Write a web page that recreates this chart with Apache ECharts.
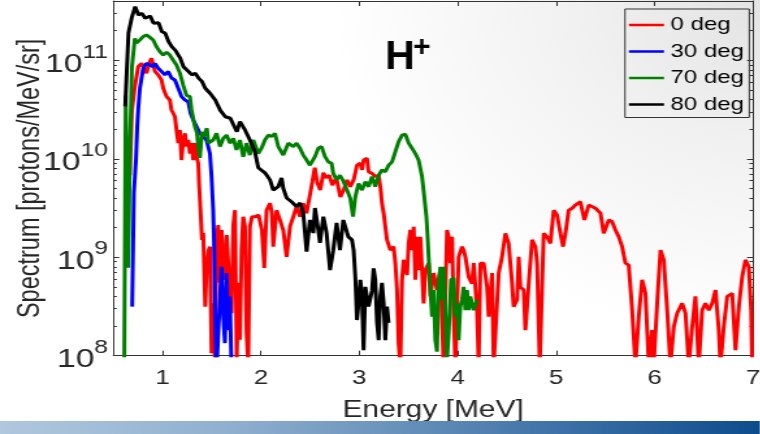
<!DOCTYPE html>
<html>
<head>
<meta charset="utf-8">
<title>H+ spectrum</title>
<script src="https://cdn.jsdelivr.net/npm/echarts@6.0.0/dist/echarts.min.js"></script>
<style>
  html, body { margin: 0; padding: 0; }
  body {
    width: 760px; height: 434px; overflow: hidden; position: relative;
    background: radial-gradient(ellipse 430px 340px at 100% 0%, #e3e3e3 0%, #f0f0f0 40%, #ffffff 100%);
  }
  #chart { position: absolute; left: 0; top: 0; height: 434px; transform-origin: 0 0; }
</style>
</head>
<body>
<div id="chart"></div>
<script>
// Proton (H+) spectra at four observation angles, energy in MeV, spectrum in protons/MeV/sr.
const energy0deg = [0.667,0.689,0.719,0.753,0.787,0.821,0.837,0.872,0.888,0.923,0.956,0.990,1.007,1.041,1.075,1.091,1.109,1.126,1.142,1.160,1.177,1.193,1.210,1.228,1.244,1.261,1.279,1.295,1.312,1.329,1.346,1.363,1.373,1.386,1.401,1.414,1.434,1.447,1.468,1.482,1.498,1.515,1.532,1.549,1.566,1.584,1.600,1.617,1.634,1.652,1.668,1.688,1.701,1.719,1.736,1.754,1.770,1.787,1.803,1.820,1.838,1.854,1.871,1.888,1.909,1.922,1.942,1.976,2.010,2.034,2.057,2.092,2.112,2.125,2.159,2.193,2.227,2.261,2.295,2.329,2.362,2.397,2.430,2.464,2.498,2.522,2.547,2.573,2.603,2.634,2.664,2.695,2.725,2.766,2.807,2.840,2.875,2.908,2.942,2.976,3.010,3.027,3.043,3.078,3.094,3.129,3.162,3.196,3.213,3.230,3.247,3.264,3.281,3.315,3.348,3.366,3.383,3.399,3.416,3.434,3.450,3.485,3.501,3.518,3.535,3.552,3.569,3.586,3.602,3.620,3.637,3.653,3.670,3.704,3.722,3.755,3.789,3.823,3.856,3.891,3.908,3.925,3.942,3.958,3.976,4.009,4.044,4.060,4.077,4.111,4.145,4.162,4.196,4.212,4.230,4.263,4.298,4.314,4.349,4.365,4.416,4.450,4.484,4.517,4.552,4.568,4.603,4.619,4.636,4.670,4.687,4.721,4.755,4.789,4.806,4.833,4.873,4.908,4.941,4.975,5.009,5.043,5.070,5.094,5.127,5.162,5.195,5.246,5.287,5.331,5.399,5.450,5.483,5.534,5.568,5.602,5.636,5.670,5.704,5.737,5.772,5.805,5.839,5.873,5.907,5.941,5.975,5.991,6.026,6.060,6.093,6.128,6.161,6.195,6.229,6.280,6.314,6.347,6.382,6.415,6.449,6.483,6.517,6.551,6.585,6.619,6.652,6.669,6.703,6.738,6.789,6.822,6.856,6.890,6.923,6.957,6.981,6.991];
const spectrum0deg = [6.8e9,3.1e10,5.4e10,8.6e10,9.3e10,8.0e10,7.4e10,9.7e10,1.05e11,7.7e10,7.1e10,6.3e10,5.2e10,4.27e10,3.95e10,3.13e10,2.9e10,2.68e10,1.96e10,1.44e10,1.96e10,9.7e9,1.55e10,1.81e10,1.33e10,1.55e10,1.13e10,1.44e10,9.7e9,1.44e10,1.05e10,9.0e9,5.2e9,3.0e9,1.5e9,1.76e9,3.15e8,7.4e8,1.18e9,1.28e9,1.06e8,3.4e8,9e7,1.5e9,2.12e9,5.5e8,1.89e9,9.4e8,5.9e8,1.68e9,1.61e9,3.7e8,2.7e8,2.12e9,3.0e9,9e7,5.5e8,1.45e8,1.18e9,2.58e9,2.04e9,1.7e8,8e7,2.04e9,2.58e9,2.69e9,2.58e9,2.69e9,1.89e9,7.8e8,3.0e9,3.53e9,2.8e9,1.28e9,3.0e9,2.39e9,1.89e9,1.01e9,2.04e9,2.58e9,3.26e9,2.58e9,3.53e9,2.8e9,4.3e9,5.8e9,8.1e9,5.7e9,4.8e9,7.2e9,6.4e9,6.8e9,5.4e9,6.4e9,4.1e9,4.8e9,6.1e9,5.2e9,6.1e9,8.6e9,9.0e9,7.7e9,9.7e9,1.01e10,7.4e9,7.1e9,6.6e9,6.8e9,5.2e9,3.53e9,2.8e9,2.04e9,1.5e9,1.18e9,1.28e9,8.7e8,4.65e8,1.34e8,8e7,5.9e8,9.4e8,6.6e8,1.38e9,1.89e9,1.18e9,2.04e9,5.9e8,1.61e9,7.4e8,1.61e9,7.4e8,3.4e8,7.4e8,8.7e8,4.0e8,6.9e8,4.65e8,7.4e8,8e7,1.89e9,1.61e9,8.7e8,1.61e9,2.7e8,8e7,1.01e9,1.28e9,1.18e9,1.01e9,6.3e8,5.4e8,8.7e8,2.9e8,8e7,8.7e8,8.7e8,5.0e8,2.49e8,6.9e8,8e7,6.9e8,1.01e9,1.75e9,1.38e9,5.4e8,3.15e8,3.7e8,1.01e9,5.0e8,4.65e8,1.82e8,5.4e8,1.5e9,1.28e9,8.7e8,8e7,1.75e9,1.61e9,1.38e9,3.0e9,2.69e9,1.75e9,1.28e9,1.75e9,3.0e9,3.14e9,3.39e9,3.66e9,2.39e9,3.39e9,3.14e9,2.8e9,1.75e9,2.39e9,2.3e9,1.89e9,1.61e9,1.28e9,8.7e8,8.3e8,2.9e8,8e7,2.49e8,5.9e8,4.3e8,8e7,1.82e8,8e7,3.4e8,1.18e9,9.4e8,2.9e8,8e7,1.97e8,2.7e8,3.4e8,2.7e8,8e7,1.97e8,4.0e8,8e7,2.9e8,3.4e8,2.9e8,3.4e8,4.65e8,1.82e8,8e7,1.97e8,4.0e8,4.3e8,1.14e8,3.15e8,6.3e8,9.4e8,8.0e8,2.9e8,8e7];

const energy30deg = [0.692,0.709,0.730,0.743,0.753,0.770,0.804,0.837,0.872,0.905,0.923,0.956,0.990,1.024,1.058,1.091,1.126,1.160,1.193,1.228,1.261,1.285,1.312,1.346,1.380,1.414,1.447,1.482,1.498,1.515,1.523,1.533,1.549,1.584,1.600,1.617,1.634,1.651,1.668,1.685,1.701,1.720];
const spectrum30deg = [3.15e8,4.5e9,9.7e9,2.12e10,3.13e10,5.2e10,8.3e10,9.3e10,8.95e10,8.6e10,9.3e10,8.3e10,7.7e10,7.1e10,7.7e10,6.6e10,6.3e10,5.2e10,4.27e10,3.95e10,3.8e10,2.9e10,2.48e10,2.12e10,1.81e10,1.68e10,1.55e10,1.13e10,6.6e9,3.0e9,1.5e9,2.7e8,7e7,4.0e8,8.0e8,2.49e8,1.34e8,6.9e8,1.82e8,4.0e8,7e7,6e7];

const energy70deg = [0.610,0.626,0.651,0.669,0.689,0.719,0.735,0.770,0.804,0.837,0.872,0.905,0.939,0.974,1.007,1.041,1.075,1.109,1.142,1.177,1.210,1.244,1.279,1.295,1.329,1.350,1.363,1.380,1.401,1.414,1.451,1.465,1.515,1.549,1.584,1.617,1.651,1.685,1.719,1.752,1.787,1.820,1.854,1.888,1.922,1.973,2.006,2.041,2.075,2.108,2.143,2.176,2.227,2.278,2.329,2.362,2.397,2.430,2.464,2.498,2.549,2.583,2.616,2.651,2.685,2.718,2.735,2.769,2.803,2.840,2.875,2.908,2.936,2.959,2.992,3.027,3.061,3.094,3.129,3.162,3.196,3.230,3.264,3.297,3.332,3.366,3.399,3.434,3.467,3.501,3.535,3.569,3.602,3.637,3.660,3.681,3.694,3.704,3.722,3.739,3.755,3.772,3.789,3.806,3.823,3.840,3.856,3.891,3.908,3.932,3.958,3.976,3.993,4.009,4.026,4.044,4.060,4.077,4.094,4.111,4.128,4.162,4.196];
const spectrum70deg = [5e7,4.4e10,7.8e8,1.23e10,8.4e10,1.67e11,1.5e11,1.61e11,1.74e11,1.81e11,1.71e11,1.61e11,1.37e11,1.22e11,1.13e11,1.21e11,1.13e11,1.0e11,8.96e10,7.4e10,5.6e10,4.4e10,4.27e10,3.13e10,2.12e10,1.83e10,1.33e10,1.02e10,1.88e10,1.68e10,2.04e10,1.44e10,1.55e10,1.81e10,1.33e10,1.61e10,1.74e10,1.44e10,1.61e10,1.23e10,1.55e10,1.05e10,1.44e10,1.09e10,1.55e10,1.13e10,1.28e10,1.55e10,1.74e10,1.68e10,1.81e10,1.33e10,1.09e10,1.44e10,1.33e10,1.44e10,1.28e10,1.09e10,9.7e9,8.6e9,1.05e10,1.28e10,1.33e10,1.05e10,9.3e9,9.0e9,7.1e9,6.1e9,6.8e9,5.85e9,4.8e9,3.96e9,2.58e9,4.1e9,5.6e9,4.8e9,5.85e9,5.2e9,6.6e9,5.2e9,6.8e9,7.7e9,7.4e9,8.6e9,9.3e9,1.18e10,1.49e10,1.74e10,1.78e10,1.44e10,1.28e10,1.13e10,9.7e9,6.6e9,4.1e9,2.58e9,1.61e9,1.01e9,4.65e8,2.49e8,4.65e8,1.44e8,1.1e8,5.5e8,8.0e8,3.7e8,8.0e8,9e7,1.7e8,5.9e8,6.2e8,2.49e8,3.4e8,1.44e8,3.15e8,3.7e8,5.0e8,2.9e8,4.65e8,2.9e8,4.0e8,2.9e8,3.7e8];

const energy80deg = [0.621,0.654,0.689,0.722,0.756,0.791,0.824,0.875,0.909,0.959,0.994,1.027,1.061,1.096,1.129,1.180,1.213,1.248,1.299,1.332,1.366,1.401,1.434,1.485,1.536,1.587,1.638,1.689,1.722,1.756,1.787,1.838,1.888,1.939,1.973,2.041,2.092,2.125,2.176,2.210,2.227,2.261,2.311,2.362,2.397,2.430,2.448,2.464,2.498,2.532,2.549,2.583,2.600,2.634,2.667,2.702,2.735,2.769,2.803,2.837,2.888,2.925,2.942,2.959,2.976,2.992,3.010,3.027,3.043,3.061,3.094,3.129,3.145,3.162,3.180,3.196,3.213,3.230,3.247,3.264,3.281,3.297];
const spectrum80deg = [3.4e10,1.89e11,2.75e11,3.5e11,2.88e11,3.0e11,2.67e11,2.82e11,2.38e11,2.41e11,1.95e11,1.89e11,1.55e11,1.37e11,1.27e11,1.05e11,8.6e10,7.96e10,7.1e10,7.4e10,6.6e10,6.1e10,5.2e10,4.6e10,3.95e10,3.1e10,2.67e10,2.58e10,2.2e10,1.88e10,2.38e10,1.96e10,1.55e10,1.18e10,8.1e9,7.2e9,6.1e9,4.8e9,5.2e9,6.4e9,5.0e9,4.0e9,3.66e9,3.26e9,3.56e9,2.81e9,1.76e9,1.14e9,2.39e9,1.76e9,3.16e9,1.89e9,1.4e9,2.58e9,1.76e9,7.4e8,1.18e9,2.23e9,1.18e9,2.39e9,1.61e9,1.5e9,1.18e9,6.3e8,2.3e8,3.4e8,5.9e8,4.0e8,1.14e8,5.0e8,3.15e8,4.6e8,7.7e8,5.9e8,2.15e8,1.44e8,4.0e8,5.5e8,3.4e8,1.44e8,3.15e8,2.15e8];

const seriesNames = ['0 deg', '30 deg', '70 deg', '80 deg'];
const seriesColors = ['#ff0000', '#0000ff', '#008000', '#000000'];
const energies = [energy0deg, energy30deg, energy70deg, energy80deg];
const spectra = [spectrum0deg, spectrum30deg, spectrum70deg, spectrum80deg];
const energyTicks = [1, 2, 3, 4, 5, 6, 7];
const energyRange = [0.5, 7];
const spectrumRange = [1e8, 4e11];

// The figure is laid out narrow and widened horizontally, like the exported plot.
const STRETCH = 1.3;
const W = 760 / STRETCH;
const FONT = '"Liberation Sans", Arial, Helvetica, sans-serif';
const axisColor = '#333333';
const textColor = '#262626';

const el = document.getElementById('chart');
el.style.width = W + 'px';
el.style.transform = 'scaleX(' + STRETCH + ')';
const chart = echarts.init(el, null, { renderer: 'canvas' });

// Minor log ticks at 2..9 x 10^n, expressed in log10 units
const logMin = Math.log10(spectrumRange[0]);
const logMax = Math.log10(spectrumRange[1]);
const minorExp = [];
for (let n = Math.floor(logMin); n <= Math.floor(logMax); n++) {
  for (let k = 2; k <= 9; k++) {
    const e = n + Math.log10(k);
    if (e < logMax) minorExp.push(e);
  }
}

const lineAxis = { show: true, onZero: false, lineStyle: { color: axisColor, width: 1 } };
const decadeLabel = v => {
  const p = Math.log10(v);
  const r = Math.round(p);
  return Math.abs(p - r) < 1e-6 ? '{b|10}{s|' + r + '}' : '';
};

const logAxis = (position, labels) => ({
  type: 'log', logBase: 10, min: spectrumRange[0], max: spectrumRange[1], position,
  axisLine: lineAxis,
  axisTick: { show: true, inside: true, length: 4.6, lineStyle: { color: axisColor } },
  minorTick: { show: false },
  splitLine: { show: false },
  axisLabel: labels ? {
    margin: 4, formatter: decadeLabel,
    rich: {
      b: { fontFamily: FONT, fontSize: 26, color: textColor, verticalAlign: 'bottom', lineHeight: 35 },
      s: { fontFamily: FONT, fontSize: 19, color: textColor, verticalAlign: 'top' }
    }
  } : { show: false }
});

const minorAxis = position => ({
  type: 'value', min: logMin, max: logMax, position,
  axisLine: { show: false },
  axisTick: { show: true, inside: true, length: 2.7, customValues: minorExp, lineStyle: { color: axisColor } },
  axisLabel: { show: false },
  splitLine: { show: false }
});

const energyAxis = (position, labels) => ({
  type: 'value', min: energyRange[0], max: energyRange[1], position,
  axisLine: lineAxis,
  axisTick: { show: true, inside: true, length: 5, customValues: energyTicks, lineStyle: { color: axisColor } },
  splitLine: { show: false },
  axisLabel: labels ? { customValues: energyTicks, fontFamily: FONT, fontSize: 20, color: textColor, margin: 13 } : { show: false }
});

const xMain = energyAxis('bottom', true);
xMain.name = 'Energy [MeV]';
xMain.nameLocation = 'middle';
xMain.nameGap = 43;
xMain.nameMoveOverlap = false;
xMain.nameTextStyle = { fontFamily: FONT, fontSize: 23, color: textColor };

const yMain = logAxis('left', true);
yMain.name = 'Spectrum [protons/MeV/sr]';
yMain.nameLocation = 'middle';
yMain.nameGap = 52;
yMain.nameMoveOverlap = false;
yMain.nameTextStyle = { fontFamily: FONT, fontSize: 23.5, color: textColor };

const option = {
  animation: false,
  backgroundColor: 'transparent',
  grid: {
    left: 113.3 / STRETCH, right: W - 752.5 / STRETCH, top: 1, bottom: 78.3,
    containLabel: false, outerBoundsMode: 'none'
  },
  xAxis: [xMain, energyAxis('top', false)],
  yAxis: [yMain, logAxis('right', false), minorAxis('left'), minorAxis('right')],
  legend: {
    orient: 'vertical', left: 625 / STRETCH, top: 9,
    padding: [6, 4, 3, 3], itemGap: 6.5, itemWidth: 27, itemHeight: 2.5, itemTextGap: 2.3,
    icon: 'rect', borderColor: '#333333', borderWidth: 1, backgroundColor: 'transparent',
    textStyle: { fontFamily: FONT, fontSize: 18.5, color: '#000000', lineHeight: 20 },
    data: seriesNames
  },
  graphic: [
    { type: 'text', x: 385 / STRETCH, y: 37, scaleX: 1 / STRETCH, z: 10,
      style: { text: 'H', fontFamily: FONT, fontSize: 41, fontWeight: 'bold', fill: '#000000', align: 'left', verticalAlign: 'top' } },
    { type: 'text', x: 413 / STRETCH, y: 33, scaleX: 1 / STRETCH, z: 10,
      style: { text: '+', fontFamily: FONT, fontSize: 30, fontWeight: 'bold', fill: '#000000', align: 'left', verticalAlign: 'top' } },
    { type: 'rect', x: 0, y: 421, z: 100, shape: { width: W, height: 13 },
      style: { fill: new echarts.graphic.LinearGradient(0, 0, 1, 0, [
        { offset: 0, color: '#b0c8de' }, { offset: 0.3, color: '#90b0cf' },
        { offset: 0.5, color: '#6d95bd' }, { offset: 0.75, color: '#3b6fa6' },
        { offset: 1, color: '#0d4c8c' }]) } }
  ],
  series: seriesNames.map((name, i) => ({
    name, type: 'line', xAxisIndex: 0, yAxisIndex: 0,
    data: energies[i].map((e, j) => [e, spectra[i][j]]),
    showSymbol: false, symbol: 'none', clip: true,
    lineStyle: { color: seriesColors[i], width: 3 },
    itemStyle: { color: seriesColors[i] },
    emphasis: { disabled: true }
  }))
};

chart.setOption(option);
</script>
</body>
</html>
